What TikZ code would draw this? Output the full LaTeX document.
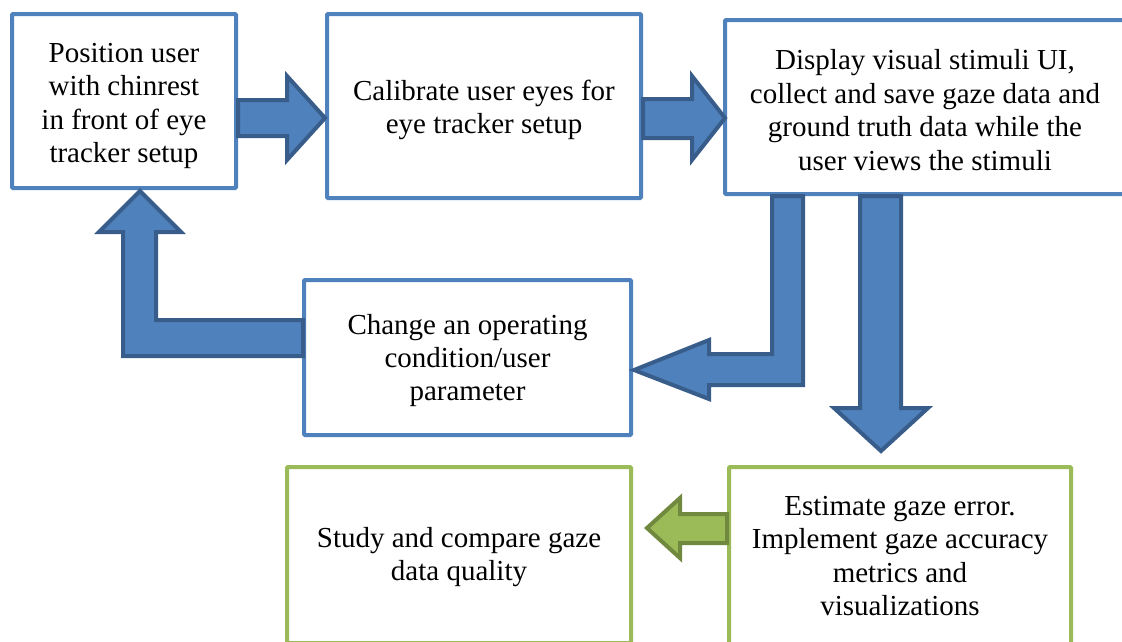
\documentclass[tikz,border=0pt]{standalone}
\usepackage{fontspec}
\setmainfont{Liberation Serif}
\definecolor{boxblue}{HTML}{4F81BD}
\definecolor{arrowedge}{HTML}{385D8A}
\definecolor{boxgreen}{HTML}{9BBB59}
\definecolor{greenedge}{HTML}{71893F}
\tikzset{
  stage/.style={draw=boxblue, line width=4pt, fill=white, rounded corners=1pt,
    inner sep=0pt},
  result/.style={stage, draw=boxgreen},
  caption/.style={inner sep=0pt, align=center, font=\fontsize{29}{33.4}\selectfont},
  blockarrow/.style={fill=boxblue, draw=arrowedge, line width=4pt, line join=miter},
  greenarrow/.style={fill=boxgreen, draw=greenedge, line width=4pt, line join=miter}
}
\begin{document}
\begin{tikzpicture}[x=1pt, y=-1pt]
\useasboundingbox (0,0) rectangle (1122,641);
\clip (0,0) rectangle (1122,641);

% process stages
\node[stage, minimum width=224pt, minimum height=174pt] (b1) at (124,101) {};
\node[stage, minimum width=314pt, minimum height=184pt] (b2) at (484,106) {};
\node[stage, minimum width=400pt, minimum height=174pt] (b3) at (925,107) {};
\node[stage, minimum width=327pt, minimum height=155pt] (b4) at (467.5,357.5) {};
\node[result, minimum width=344pt, minimum height=176pt] (b5) at (459,555) {};
\node[result, minimum width=342pt, minimum height=178pt] (b6) at (900,556) {};

% stage texts
\node[caption] (t1) at ([yshift=-5pt]b1.center)
  {Position user\\with chinrest\\in front of eye\\tracker setup};
\node[caption] (t2) at ([yshift=-4pt]b2.center)
  {Calibrate user eyes for\\eye tracker setup};
\node[caption] (t3) at ([yshift=-3pt]b3.center)
  {Display visual stimuli UI,\\collect and save gaze data and\\ground truth data while the\\user views the stimuli};
\node[caption] (t4) at ([yshift=-3pt]b4.center)
  {Change an operating\\condition/user\\parameter};
\node[caption] (t5) at ([yshift=-2pt]b5.center)
  {Study and compare gaze\\data quality};
\node[caption] (t6) at ([yshift=0pt]b6.center)
  {Estimate gaze error.\\Implement gaze accuracy\\metrics and\\visualizations};

% block arrows between stages
% position -> calibrate
\draw[blockarrow] (238,100) -- (287,100) -- (287,76) -- (325,118) -- (287,160)
  -- (287,136) -- (238,136) -- cycle;
% calibrate -> display
\draw[blockarrow] (643,99) -- (692,99) -- (692,76) -- (725,118) -- (692,160)
  -- (692,138) -- (643,138) -- cycle;
% display -> change condition (bent)
\draw[blockarrow] (772,196) -- (803,196) -- (803,385) -- (709,385) -- (709,399)
  -- (634,370) -- (709,340) -- (709,354) -- (772,354) -- cycle;
% display -> estimate error
\draw[blockarrow] (860,196) -- (901,196) -- (901,408) -- (928,408) -- (881,451)
  -- (834,408) -- (860,408) -- cycle;
% change condition -> position user (bent)
\draw[blockarrow] (303,320) -- (156,320) -- (156,232) -- (181,232) -- (140,191)
  -- (99,232) -- (123,232) -- (123,356) -- (303,356) -- cycle;
% estimate error -> study
\draw[greenarrow] (727,514) -- (680,514) -- (680,498) -- (647,528) -- (680,558)
  -- (680,543) -- (727,543) -- cycle;
\end{tikzpicture}
\end{document}
